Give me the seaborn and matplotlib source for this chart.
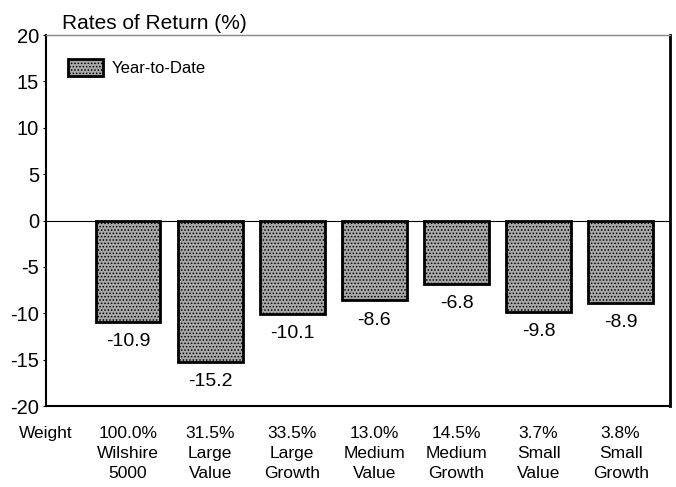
import pandas as pd
import numpy as np
import matplotlib.pyplot as plt
import seaborn as sns

categories = ['Wilshire\n5000', 'Large\nValue', 'Large\nGrowth', 'Medium\nValue',
              'Medium\nGrowth', 'Small\nValue', 'Small\nGrowth']
weights = ['100.0%', '31.5%', '33.5%', '13.0%', '14.5%', '3.7%', '3.8%']
ytd = [-10.9, -15.2, -10.1, -8.6, -6.8, -9.8, -8.9]

sns.set_style('white')
plt.rcParams['font.family'] = ['Liberation Sans', 'DejaVu Sans']
plt.rcParams['axes.unicode_minus'] = False
plt.rcParams['text.color'] = 'black'
plt.rcParams['xtick.color'] = 'black'
plt.rcParams['ytick.color'] = 'black'
plt.rcParams['hatch.linewidth'] = 0.7
plt.rcParams['hatch.color'] = '#3a3a3a'

df = pd.DataFrame({'cat': categories, 'ytd': ytd})

fig = plt.figure(figsize=(6.76, 4.87), dpi=100)
ax = fig.add_axes([0.068, 0.166, 0.923, 0.762])
sns.barplot(data=df, x='cat', y='ytd', color='#a8a8a8', edgecolor='black',
            linewidth=2, width=0.79, saturation=1, ax=ax, label='Year-to-Date',
            hatch='.....')
ax.bar_label(ax.containers[0], fmt='%.1f', padding=8, fontsize=14)

ax.axhline(0, color='black', lw=0.8, zorder=0.5)
ax.set_ylim(-20, 20)
ax.set_xlim(-1.0, 6.6)
ax.set_yticks(range(-20, 21, 5))
ax.tick_params(axis='y', labelsize=14.5, length=2, width=0.8, direction='out', left=True, pad=3)
ax.set_xticks([-1] + list(range(len(categories))))
ax.set_xticklabels(['Weight'] + [w + '\n' + c for w, c in zip(weights, categories)],
                   fontsize=12.5, linespacing=1.45)
ax.tick_params(axis='x', length=0, pad=14)
ax.set_xlabel('')
ax.set_ylabel('')
for s in ax.spines.values():
    s.set_color('black')
    s.set_linewidth(1.5)
ax.spines['right'].set_linewidth(2)
ax.spines['top'].set_color('#888888')
ax.spines['top'].set_linewidth(1)

ax.text(0.026, 1.005, 'Rates of Return (%)', transform=ax.transAxes, ha='left', va='bottom', fontsize=15)

ax.legend(loc='upper left', frameon=False, fontsize=12, handlelength=2.1, handleheight=1.2,
          handletextpad=0.55, borderpad=0, borderaxespad=0, bbox_to_anchor=(0.035, 0.935))

plt.savefig('out.png', dpi=100)
